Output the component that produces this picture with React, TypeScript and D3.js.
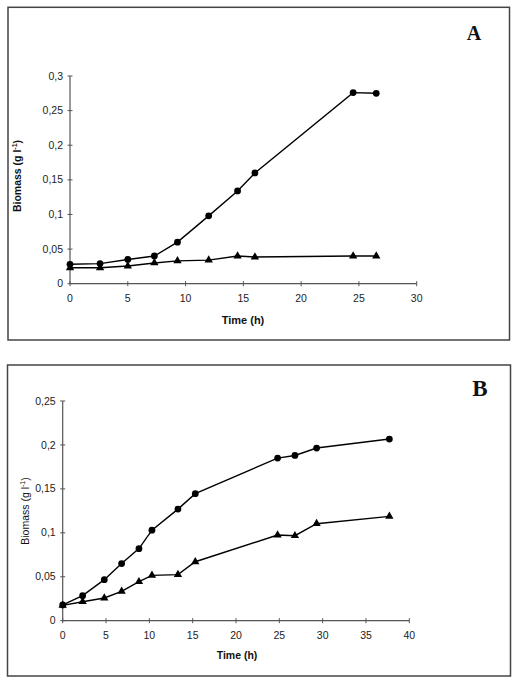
import React from "react";
import * as d3 from "d3";

// ---- Panel A data ----
const timeA = [0, 2.6, 5, 7.3, 9.3, 12, 14.5, 16, 24.5, 26.5];
const circlesA = [0.028, 0.029, 0.035, 0.04, 0.06, 0.098, 0.134, 0.16, 0.276, 0.275];
const trianglesA = [0.023, 0.023, 0.0255, 0.03, 0.033, 0.034, 0.04, 0.0385, 0.04, 0.04];
const xTicksA = [0, 5, 10, 15, 20, 25, 30];
const yTicksA = [0, 0.05, 0.1, 0.15, 0.2, 0.25, 0.3];

// ---- Panel B data ----
const timeB = [0, 2.3, 4.8, 6.8, 8.8, 10.3, 13.3, 15.3, 24.8, 26.8, 29.3, 37.7];
const circlesB = [0.018, 0.0285, 0.0467, 0.065, 0.082, 0.103, 0.127, 0.1445, 0.185, 0.188, 0.1965, 0.2067];
const trianglesB = [0.0175, 0.0216, 0.0258, 0.0334, 0.0444, 0.0516, 0.0524, 0.0671, 0.0975, 0.0967, 0.1104, 0.1187];
const xTicksB = [0, 5, 10, 15, 20, 25, 30, 35, 40];
const yTicksB = [0, 0.05, 0.1, 0.15, 0.2, 0.25];

const fmt = (v: number) => String(+v.toFixed(3)).replace(".", ",");

type PanelProps = {
  frame: [number, number, number, number];
  xRange: [number, number];
  yRange: [number, number];
  xTicks: number[];
  yTicks: number[];
  time: number[];
  circles: number[];
  triangles: number[];
  letter: string;
  letterPos: [number, number];
  letterSize: number;
  yLabelPos: [number, number];
  yLabelBold: boolean;
  xLabelPos: [number, number];
  xLabelSize: number;
};

function Panel(p: PanelProps) {
  const x = d3.scaleLinear().domain([p.xTicks[0], p.xTicks[p.xTicks.length - 1]]).range(p.xRange);
  const y = d3.scaleLinear().domain([p.yTicks[0], p.yTicks[p.yTicks.length - 1]]).range(p.yRange);
  const line = d3.line<number>().x((_, i) => x(p.time[i])).y((d) => y(d));
  const circ = d3.symbol().type(d3.symbolCircle).size(36)()!;
  const tri = d3.symbol().type(d3.symbolTriangle).size(30)()!;
  const axisColor = "#555";
  const [fx, fy, fw, fh] = p.frame;
  return (
    <g>
      <rect x={fx} y={fy} width={fw} height={fh} fill="none" stroke="#444" strokeWidth={1.5} />
      <text x={p.letterPos[0]} y={p.letterPos[1]} fontFamily="'Liberation Serif', 'DejaVu Serif', serif" fontWeight="bold" fontSize={p.letterSize} textAnchor="middle" fill="#111">
        {p.letter}
      </text>
      {/* axes */}
      <line x1={p.xRange[0]} x2={p.xRange[1]} y1={y(0)} y2={y(0)} stroke={axisColor} strokeWidth={1.2} />
      <line x1={x(0)} x2={x(0)} y1={p.yRange[0]} y2={p.yRange[1]} stroke={axisColor} strokeWidth={1.2} />
      {p.xTicks.map((t) => (
        <g key={"xt" + t}>
          <line x1={x(t)} x2={x(t)} y1={y(0) - 2.5} y2={y(0) + 2.5} stroke={axisColor} strokeWidth={1} />
          <text x={x(t)} y={y(0) + 18} textAnchor="middle" fontFamily="'Liberation Sans', Arial, sans-serif" fontSize={10.5} fill="#222">
            {fmt(t)}
          </text>
        </g>
      ))}
      {p.yTicks.map((t) => (
        <g key={"yt" + t}>
          <line x1={x(0) - 2.5} x2={x(0) + 2.5} y1={y(t)} y2={y(t)} stroke={axisColor} strokeWidth={1} />
          <text x={x(0) - 7} y={y(t) + 3.6} textAnchor="end" fontFamily="'Liberation Sans', Arial, sans-serif" fontSize={10.5} fill="#222">
            {fmt(t)}
          </text>
        </g>
      ))}
      {/* axis labels */}
      <text
        transform={`translate(${p.yLabelPos[0]},${p.yLabelPos[1]}) rotate(-90)`}
        textAnchor="middle"
        fontFamily="'Liberation Sans', Arial, sans-serif"
        fontSize={10.5}
        fontWeight={p.yLabelBold ? "bold" : "normal"}
        fill="#111"
      >
        Biomass (g l
        <tspan fontSize={7} dy={-4}>-1</tspan>
        <tspan dy={4}>)</tspan>
      </text>
      <text x={p.xLabelPos[0]} y={p.xLabelPos[1]} textAnchor="middle" fontFamily="'Liberation Sans', Arial, sans-serif" fontSize={p.xLabelSize} fontWeight="bold" fill="#111">
        Time (h)
      </text>
      {/* series */}
      <path d={line(p.circles) ?? ""} fill="none" stroke="#000" strokeWidth={1.4} />
      <path d={line(p.triangles) ?? ""} fill="none" stroke="#000" strokeWidth={1.4} />
      {p.circles.map((v, i) => (
        <path key={"c" + i} d={circ} transform={`translate(${x(p.time[i])},${y(v)})`} fill="#000" />
      ))}
      {p.triangles.map((v, i) => (
        <path key={"t" + i} d={tri} transform={`translate(${x(p.time[i])},${y(v)})`} fill="#000" />
      ))}
    </g>
  );
}

export default function App() {
  return (
    <svg width={518} height={685} style={{ position: "absolute", left: 0, top: 0, background: "#fff" }}>
      <rect x={0} y={0} width={518} height={685} fill="#fff" />
      <Panel
        frame={[8, 7.3, 501.5, 332.7]}
        xRange={[70, 416.7]}
        yRange={[283.7, 76]}
        xTicks={xTicksA}
        yTicks={yTicksA}
        time={timeA}
        circles={circlesA}
        triangles={trianglesA}
        letter="A"
        letterPos={[474, 39.5]}
        letterSize={20}
        yLabelPos={[21, 176]}
        yLabelBold={true}
        xLabelPos={[243, 324]}
        xLabelSize={11}
      />
      <Panel
        frame={[7.5, 365, 503, 311]}
        xRange={[62.7, 409.3]}
        yRange={[620.7, 401]}
        xTicks={xTicksB}
        yTicks={yTicksB}
        time={timeB}
        circles={circlesB}
        triangles={trianglesB}
        letter="B"
        letterPos={[480, 396]}
        letterSize={23}
        yLabelPos={[28.5, 511]}
        yLabelBold={false}
        xLabelPos={[237, 659]}
        xLabelSize={10.5}
      />
    </svg>
  );
}
